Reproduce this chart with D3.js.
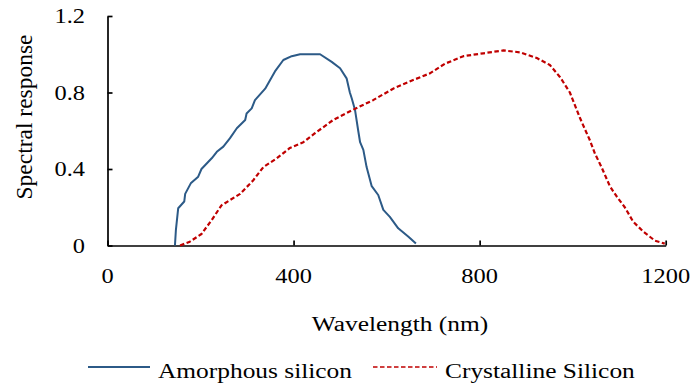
<!DOCTYPE html>
<html>
<head>
<meta charset="utf-8">
<script src="https://cdn.jsdelivr.net/npm/d3@7"></script>
<style>
  html, body { margin: 0; padding: 0; background: #fff; }
  svg { display: block; }
  svg text { font-family: 'Liberation Serif', 'Times New Roman', Times, serif; }
</style>
</head>
<body>
<svg id="chart" width="694" height="383"></svg>
<script>
// amorphous silicon
const amorphousWl = [145, 147, 152, 165, 167, 179, 195, 202, 224, 235, 249, 263, 278, 296, 299, 310, 317, 339, 360, 378, 396, 414, 457, 482, 500, 514, 521, 525, 532, 539, 543, 550, 557, 568, 582, 593, 607, 625, 647, 663];
const amorphousResp = [0, 0.08, 0.195, 0.23, 0.27, 0.325, 0.36, 0.40, 0.456, 0.49, 0.517, 0.56, 0.613, 0.656, 0.69, 0.717, 0.76, 0.82, 0.91, 0.97, 0.99, 1.0, 1.0, 0.96, 0.927, 0.874, 0.80, 0.77, 0.71, 0.60, 0.54, 0.50, 0.41, 0.31, 0.264, 0.186, 0.15, 0.09, 0.046, 0.01];

// crystalline silicon
const crystallineWl = [156, 177, 202, 224, 245, 285, 313, 335, 364, 392, 421, 446, 485, 528, 571, 614, 657, 693, 725, 765, 808, 851, 887, 923, 951, 973, 994, 1016, 1037, 1048, 1062, 1080, 1095, 1112, 1130, 1152, 1177, 1198];
const crystallineResp = [0, 0.02, 0.06, 0.133, 0.21, 0.27, 0.34, 0.41, 0.456, 0.51, 0.54, 0.587, 0.656, 0.71, 0.76, 0.82, 0.865, 0.90, 0.95, 0.99, 1.005, 1.02, 1.01, 0.98, 0.944, 0.88, 0.80, 0.665, 0.55, 0.48, 0.41, 0.31, 0.255, 0.20, 0.125, 0.072, 0.025, 0.01];

const xTicks = [0, 400, 800, 1200];
const yTicks = [0, 0.4, 0.8, 1.2];
const seriesNames = ['Amorphous silicon', 'Crystalline Silicon'];
const seriesColors = ['#2c5a87', '#c00000'];

const svg = d3.select('#chart');

const x = d3.scaleLinear().domain([0, 1200]).range([107.5, 665.7]);
const y = d3.scaleLinear().domain([0, 1.2]).range([245.5, 16]);

// the source picture is wider than it is tall, so text gets a horizontal stretch
function stretchedText(g, str, px, py, size, anchor, sx) {
  return g.append('text')
    .attr('transform', `translate(${px},${py}) scale(${sx},1)`)
    .attr('text-anchor', anchor)
    .attr('font-family', 'Liberation Serif')
    .attr('font-size', size)
    .attr('fill', '#000')
    .text(str);
}

// axes, ticks pointing inward
const xAxis = svg.append('g')
  .attr('transform', `translate(0,${y(0)})`)
  .call(d3.axisBottom(x).tickValues(xTicks).tickSize(-5).tickSizeOuter(0).tickFormat(''));
const yAxis = svg.append('g')
  .attr('transform', `translate(${x(0)},0)`)
  .call(d3.axisLeft(y).tickValues(yTicks).tickSize(-5).tickSizeOuter(0).tickFormat(''));
[xAxis, yAxis].forEach((a) => {
  a.selectAll('path, line').attr('stroke', '#000').attr('stroke-width', 1.7);
});

const labels = svg.append('g');
xTicks.forEach((t) => stretchedText(labels, String(t), x(t), 283, 20, 'middle', 1.22));
yTicks.forEach((t) => stretchedText(labels, String(t), 85, y(t) + 7, 20, 'end', 1.22));

stretchedText(labels, 'Wavelength (nm)', 400, 331, 20, 'middle', 1.27);
labels.append('text')
  .attr('transform', `translate(32,117) rotate(-90)`)
  .attr('text-anchor', 'middle')
  .attr('font-family', 'Liberation Serif')
  .attr('font-size', 23.5)
  .text('Spectral response');

// series
const line = d3.line()
  .x((d) => x(d[0]))
  .y((d) => y(d[1]));

const series = [
  d3.zip(amorphousWl, amorphousResp),
  d3.zip(crystallineWl, crystallineResp),
];

svg.append('g')
  .selectAll('path')
  .data(series)
  .join('path')
    .attr('d', line)
    .attr('fill', 'none')
    .attr('stroke', (d, i) => seriesColors[i])
    .attr('stroke-width', (d, i) => (i === 1 ? 2.2 : 2))
    .attr('stroke-linejoin', 'round')
    .attr('stroke-dasharray', (d, i) => (i === 1 ? '4.5,2.5' : null));

// legend
const legend = svg.append('g');
const legendItems = [
  { x1: 88, x2: 150, tx: 158 },
  { x1: 373, x2: 437, tx: 445 },
];
legendItems.forEach((it, i) => {
  legend.append('line')
    .attr('x1', it.x1).attr('x2', it.x2)
    .attr('y1', 367).attr('y2', 367)
    .attr('stroke', seriesColors[i])
    .attr('stroke-width', i === 1 ? 1.6 : 1.8)
    .attr('stroke-dasharray', i === 1 ? '4.5,2.5' : null);
  stretchedText(legend, seriesNames[i], it.tx, 378, 20, 'start', 1.27);
});
</script>
</body>
</html>
